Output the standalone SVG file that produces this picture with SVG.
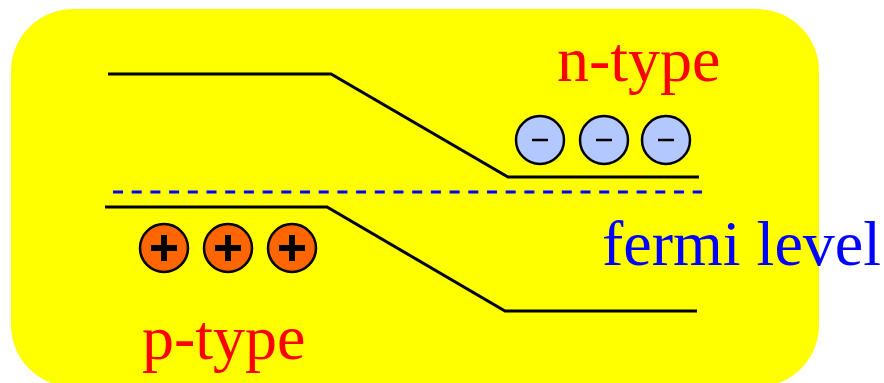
<svg xmlns="http://www.w3.org/2000/svg" width="884" height="383" viewBox="0 0 884 383">
  <style>
    .band { fill: none; stroke: #000; stroke-width: 3; }
    .fermi { fill: none; stroke: #0000ff; stroke-width: 3; stroke-dasharray: 10 8.7; }
    .neg circle { fill: #b3c8ff; stroke: #000; stroke-width: 2.5; }
    .neg line { stroke: #000; stroke-width: 2.5; }
    .pos circle { fill: #ff6600; stroke: #000; stroke-width: 2.5; }
    .pos path { stroke: #000; stroke-width: 6; fill: none; }
    .lbl { font-family: "Liberation Serif", "Times New Roman", serif; font-size: 64px; }
  </style>
  <rect id="background" x="11" y="9" width="808" height="378" rx="62" ry="62" fill="#ffff00"/>
  <g id="connectors">
    <polyline class="band" points="108,74 331,74 508,177 699,177"/>
    <line class="fermi" x1="113" y1="192" x2="702" y2="192"/>
    <polyline class="band" points="105,207 327,207 505,311 697,311"/>
  </g>
  <g id="electrons" class="neg">
    <circle cx="540" cy="140" r="24"/><line x1="532" y1="140" x2="548" y2="140"/>
    <circle cx="604" cy="140" r="24"/><line x1="596" y1="140" x2="612" y2="140"/>
    <circle cx="666" cy="140" r="24"/><line x1="658" y1="140" x2="674" y2="140"/>
  </g>
  <g id="holes" class="pos">
    <circle cx="164" cy="248" r="24"/><path d="M151,248H177M164,235V261"/>
    <circle cx="228" cy="248" r="24"/><path d="M215,248H241M228,235V261"/>
    <circle cx="292" cy="248" r="24"/><path d="M279,248H305M292,235V261"/>
  </g>
  <g id="label-n"><text class="lbl" x="557" y="81" fill="#ff0000">n-type</text></g>
  <g id="label-fermi"><text class="lbl" x="602" y="265" fill="#0000ff">fermi level</text></g>
  <g id="label-p"><text class="lbl" x="142" y="359" fill="#ff0000">p-type</text></g>
</svg>
